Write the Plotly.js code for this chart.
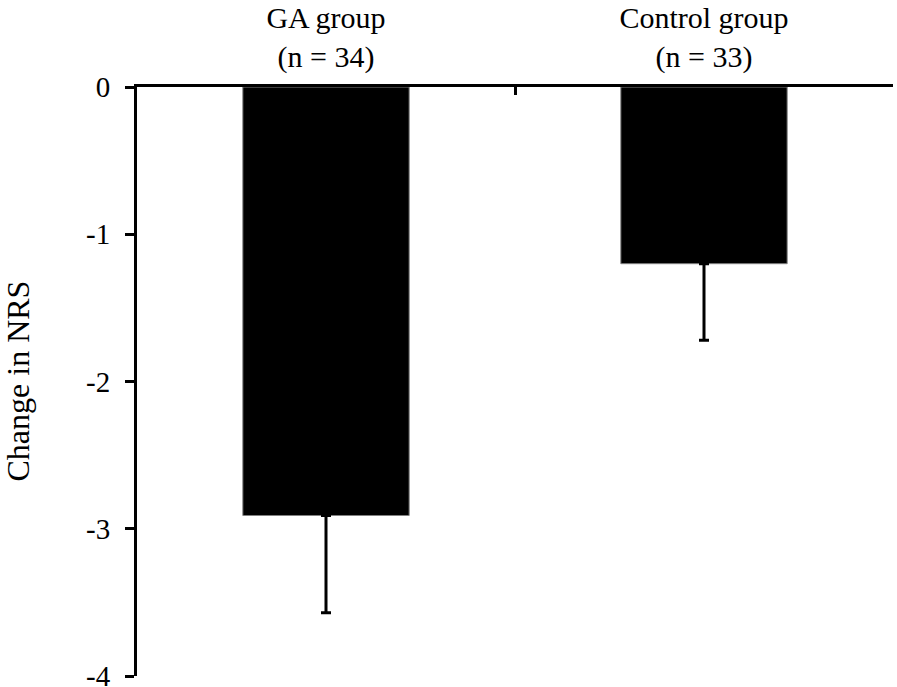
<!DOCTYPE html>
<html>
<head>
<meta charset="utf-8">
<script src="https://cdn.plot.ly/plotly-3.0.1.min.js"></script>
<style>
  html, body { margin: 0; padding: 0; background: #fff; }
  #chart { width: 897px; height: 687px; }
</style>
</head>
<body>
<div id="chart"></div>
<script>
  /* Change in NRS by group, mean with lower error bar */
  const groups = ['GA group<br>(n = 34)', 'Control group<br>(n = 33)'];
  const meanChange = [-2.91, -1.20];
  const errLower = [0.66, 0.52];
  const yTicks = [0, -1, -2, -3, -4];
  const yTitle = 'Change in NRS';

  const FONT = 'Liberation Serif, Times New Roman, serif';

  const trace = {
    type: 'bar',
    x: groups,
    y: meanChange,
    marker: { color: '#000', line: { color: '#808080', width: 1 } },
    error_y: {
      type: 'data', symmetric: false,
      array: [0, 0], arrayminus: errLower,
      color: '#000', thickness: 3, width: 5
    },
    hoverinfo: 'none'
  };

  const layout = {
    width: 897, height: 687,
    paper_bgcolor: '#fff', plot_bgcolor: '#fff',
    margin: { t: 87, r: 4, b: 11, l: 137 },
    font: { family: FONT, size: 29, color: '#000' },
    showlegend: false,
    bargap: 0.56,
    xaxis: {
      side: 'top',
      type: 'category',
      showline: true, linecolor: '#000', linewidth: 3,
      ticks: 'inside', tickson: 'boundaries', ticklen: 8, tickwidth: 3, tickcolor: '#000',
      ticklabelstandoff: 5,
      showgrid: false, zeroline: false,
      tickfont: { family: FONT, size: 30, color: '#000' }
    },
    yaxis: {
      range: [-4, 0],
      tickvals: yTicks,
      ticktext: yTicks.map(String),
      showline: true, linecolor: '#000', linewidth: 3,
      ticks: 'outside', ticklen: 9, tickwidth: 3, tickcolor: '#000',
      ticklabelstandoff: 9,
      ticklabeloverflow: 'allow',
      showgrid: false, zeroline: false,
      tickfont: { family: FONT, size: 29, color: '#000' }
    },
    // y title as an annotation so it can sit closer to the left edge
    annotations: [{
      text: yTitle, textangle: -90,
      xref: 'paper', yref: 'paper',
      x: -120 / 756, y: 0.5,
      xanchor: 'center', yanchor: 'middle',
      showarrow: false,
      font: { family: FONT, size: 32, color: '#000' }
    }]
  };

  Plotly.newPlot('chart', [trace], layout, { displayModeBar: false, staticPlot: true });
</script>
</body>
</html>
